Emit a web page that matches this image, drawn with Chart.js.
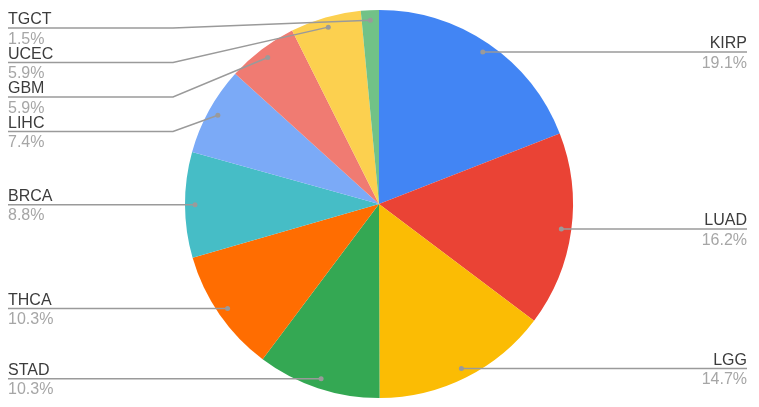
<!DOCTYPE html>
<html>
<head>
<meta charset="utf-8">
<script src="https://cdn.jsdelivr.net/npm/chart.js@4/dist/chart.umd.min.js"></script>
<style>
    html, body { margin: 0; padding: 0; background: #fff; }
    #chart { display: block; }
</style>
</head>
<body>
<canvas id="chart" width="759" height="407"></canvas>
<script>
// Cancer types, clockwise from 12 o'clock
const cancerTypes = ['KIRP', 'LUAD', 'LGG', 'STAD', 'THCA', 'BRCA', 'LIHC', 'GBM', 'UCEC', 'TGCT'];
const sharePercent = [19.1, 16.2, 14.7, 10.3, 10.3, 8.8, 7.4, 5.9, 5.9, 1.5];
const sliceColors = ['#4285F4', '#EA4335', '#FBBC04', '#34A853', '#FF6D01',
                     '#46BDC6', '#7BAAF7', '#F07B72', '#FCD04F', '#71C287'];

/* leader lines + labels, Google Sheets style */
const leaderLabels = {
    id: 'leaderLabels',
    afterDatasetsDraw(chart) {
        const ctx = chart.ctx;
        const meta = chart.getDatasetMeta(0);
        const gap = 34.5;      // min vertical spacing between labels
        const minTop = 28;
        const leftX = 8, rightX = 747;
        const elbowLeft = 173, elbowRight = 759 - 173;

        const items = meta.data.map((arc, i) => {
            const p = arc.getProps(['x', 'y', 'startAngle', 'endAngle', 'outerRadius'], true);
            const mid = (p.startAngle + p.endAngle) / 2;
            const r = p.outerRadius - 10;
            return {
                i,
                dotX: p.x + Math.cos(mid) * r,
                dotY: p.y + Math.sin(mid) * r,
                right: Math.cos(mid) >= 0
            };
        });

        [true, false].forEach(side => {
            const group = items.filter(it => it.right === side).sort((a, b) => a.dotY - b.dotY);
            let prev = -Infinity;
            group.forEach(it => {
                it.lineY = Math.max(it.dotY, prev + gap, minTop);
                prev = it.lineY;
            });
        });

        ctx.save();
        items.forEach(it => {
            const textX = it.right ? rightX : leftX;
            const elbowX = it.right ? elbowRight : elbowLeft;

            ctx.strokeStyle = '#9a9a9a';
            ctx.lineWidth = 1.5;
            ctx.beginPath();
            ctx.moveTo(textX, it.lineY);
            if (Math.abs(it.lineY - it.dotY) > 0.5) {
                ctx.lineTo(elbowX, it.lineY);
            }
            ctx.lineTo(it.dotX, it.dotY);
            ctx.stroke();

            ctx.fillStyle = '#9a9a9a';
            ctx.beginPath();
            ctx.arc(it.dotX, it.dotY, 2.5, 0, Math.PI * 2);
            ctx.fill();

            ctx.font = '16px "Liberation Sans", Arial, sans-serif';
            ctx.textAlign = it.right ? 'right' : 'left';
            ctx.textBaseline = 'alphabetic';
            ctx.fillStyle = '#3c3c3c';
            ctx.fillText(cancerTypes[it.i], textX, it.lineY - 4);
            ctx.fillStyle = '#a6a6a6';
            ctx.fillText(sharePercent[it.i].toFixed(1) + '%', textX, it.lineY + 15.5);
        });
        ctx.restore();
    }
};

new Chart(document.getElementById('chart').getContext('2d'), {
    type: 'pie',
    data: {
        labels: cancerTypes,
        datasets: [{
            data: sharePercent,
            backgroundColor: sliceColors,
            borderWidth: 0
        }]
    },
    options: {
        responsive: false,
        devicePixelRatio: 1,
        animation: false,
        layout: { padding: { top: 10, bottom: 9, left: 0, right: 1 } },
        plugins: {
            legend: { display: false },
            tooltip: { enabled: false }
        }
    },
    plugins: [leaderLabels]
});
</script>
</body>
</html>
